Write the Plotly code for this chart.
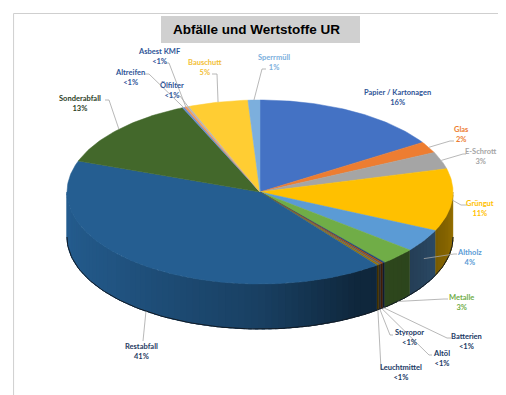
import numpy as np
import plotly.graph_objects as go

# ---------------- data ----------------
categories = ["Papier / Kartonagen", "Glas", "E-Schrott", "Grüngut", "Altholz", "Metalle",
              "Batterien", "Altöl", "Styropor", "Leuchtmittel", "Restabfall", "Sonderabfall",
              "Altreifen", "Asbest KMF", "Ölfilter", "Bauschutt", "Sperrmüll"]
values = [16, 2, 3, 11, 4, 3, 0.2, 0.2, 0.2, 0.2, 41, 13, 0.2, 0.2, 0.2, 5, 1]
pct_labels = ["16%", "2%", "3%", "11%", "4%", "3%", "<1%", "<1%", "<1%", "<1%", "41%", "13%",
              "<1%", "<1%", "<1%", "5%", "1%"]
title_text = "Abfälle und Wertstoffe UR"

# ---------------- styles / layout ----------------
slice_colors = ["#4472C4", "#ED7D31", "#A5A5A5", "#FFC000", "#5B9BD5", "#70AD47",
                "#264478", "#9E480E", "#636363", "#997300", "#255E91", "#43682B",
                "#698ED0", "#F1975A", "#B7B7B7", "#FFCD33", "#7CAFDD"]
label_colors = ["#2F5597", "#ED7D31", "#A5A5A5", "#FFC000", "#5B9BD5", "#70AD47",
                "#203864", "#203864", "#203864", "#203864", "#1F3A5F", "#2D3E1E",
                "#2F5597", "#2F5597", "#2F5597", "#F2C037", "#7CAFDD"]
label_xy = [(389, 89), (453, 126), (473, 148), (472, 200), (461, 249), (453, 294),
            (458, 333), (433, 350), (401, 329), (393, 364), (133, 343), (72, 95),
            (122, 69), (151, 48), (164, 82), (197, 59), (266, 54)]
leader_start = [None, (446, 133, -4), (458, 146, -3), (459, 197, -6), (449, 246, -3),
                (440, 291, -4), (443, 330, -4), (424, 347, -3), (385, 327, -3),
                (377, 361, -4), (135, 333, 0), (97, 92, 4), (137, 66, 4), (157, 55, 4),
                (170, 88, 2), (204, 66, 5), (258, 61, -4)]
attach = [0, 0, 0, 0, 0.4, 1, 1, 1, 1, 1, 1, 0, 0, 0, 0, 0, 0]

W, H = 506, 395
CX, CY, A, B, DEPTH = 252, 184, 193, 92, 45

vals = np.array(values, dtype=float)
frac = vals / vals.sum()
ends = np.cumsum(frac) * 360.0
starts = ends - frac * 360.0


def ex(t):
    return CX + A * np.sin(np.radians(t))


def ey(t):
    return CY - B * np.cos(np.radians(t))


def shade(hexc, f):
    r, g, b = int(hexc[1:3], 16), int(hexc[3:5], 16), int(hexc[5:7], 16)
    return "rgb(%d,%d,%d)" % (min(255, r * f), min(255, g * f), min(255, b * f))


fig = go.Figure()

# side of the 3D pie (visible front half), drawn as overlapping shaded strips
for i, c in enumerate(slice_colors):
    s, e = max(starts[i], 90.0), min(ends[i], 270.0)
    if e <= s:
        continue
    n = int(np.ceil((e - s) / 2.0))
    edges = np.linspace(s, e, n + 1)
    for k in range(n):
        t0 = edges[k]
        t1 = min(e, edges[k + 1] + 1.0)
        th = np.linspace(t0, t1, 5)
        xs = np.concatenate([ex(th), ex(th[::-1])])
        ys = np.concatenate([ey(th), ey(th[::-1]) + DEPTH])
        tm = 0.5 * (edges[k] + edges[k + 1])
        f = np.interp(tm, [90, 130, 150, 180, 230, 270], [0.6, 0.4, 0.42, 0.68, 0.9, 1.0])
        col = shade(c, f)
        fig.add_trace(go.Scatter(x=xs, y=ys, mode="lines", fill="toself", fillcolor=col,
                                 line=dict(color=col, width=0.8), hoverinfo="skip",
                                 showlegend=False))

# top face slices
for i, c in enumerate(slice_colors):
    s, e = starts[i], ends[i]
    m = max(2, int(np.ceil(e - s)) + 1)
    th = np.linspace(s, e, m)
    xs = np.concatenate([[CX], ex(th), [CX]])
    ys = np.concatenate([[CY], ey(th), [CY]])
    fig.add_trace(go.Scatter(x=xs, y=ys, mode="lines", fill="toself", fillcolor=c,
                             line=dict(color=c, width=0.5), name=categories[i],
                             hovertemplate=categories[i] + ": " + pct_labels[i] + "<extra></extra>",
                             showlegend=False))

# bottom rim outline
th = np.linspace(90, 270, 120)
fig.add_trace(go.Scatter(x=ex(th), y=ey(th) + DEPTH, mode="lines",
                         line=dict(color="#111a24", width=1), hoverinfo="skip", showlegend=False))

# leader lines
mids = 0.5 * (starts + ends)
for i, ls in enumerate(leader_start):
    if ls is None:
        continue
    sx, sy, dx = ls
    x_end = ex(mids[i])
    y_end = ey(mids[i]) + attach[i] * DEPTH
    fig.add_trace(go.Scatter(x=[sx, sx + dx, x_end], y=[sy, sy, y_end], mode="lines",
                             line=dict(color="#A6A6A6", width=0.8), hoverinfo="skip",
                             showlegend=False))

# data labels
for i, name in enumerate(categories):
    lx, ly = label_xy[i]
    fig.add_annotation(x=lx, y=ly, xref="x", yref="y", showarrow=False,
                       text="<b>%s</b><br><b>%s</b>" % (name, pct_labels[i]),
                       font=dict(family="Lato, Carlito, sans-serif", size=7.5, color=label_colors[i]),
                       xanchor="center", yanchor="middle", align="center")

# title
fig.add_shape(type="rect", xref="x", yref="y", x0=153, x1=352, y0=8, y1=35,
              fillcolor="#D0D0D0", line=dict(width=0), layer="below")
fig.add_annotation(x=248, y=21.5, xref="x", yref="y", showarrow=False,
                   text="<b>%s</b>" % title_text,
                   font=dict(family="Liberation Sans, Arial, sans-serif", size=13.5, color="#000000"),
                   xanchor="center", yanchor="middle")

# chart frame
fig.add_shape(type="rect", xref="paper", yref="paper", x0=0.011, x1=0.994, y0=0.013, y1=0.986,
              line=dict(color="#CFCFCF", width=1), fillcolor="rgba(0,0,0,0)", layer="above")

fig.update_layout(width=W, height=H, margin=dict(l=0, r=0, t=0, b=0),
                  paper_bgcolor="white", plot_bgcolor="white",
                  xaxis=dict(range=[0, W], visible=False, fixedrange=True),
                  yaxis=dict(range=[H, 0], visible=False, fixedrange=True),
                  showlegend=False)

fig.write_html("out.html")
